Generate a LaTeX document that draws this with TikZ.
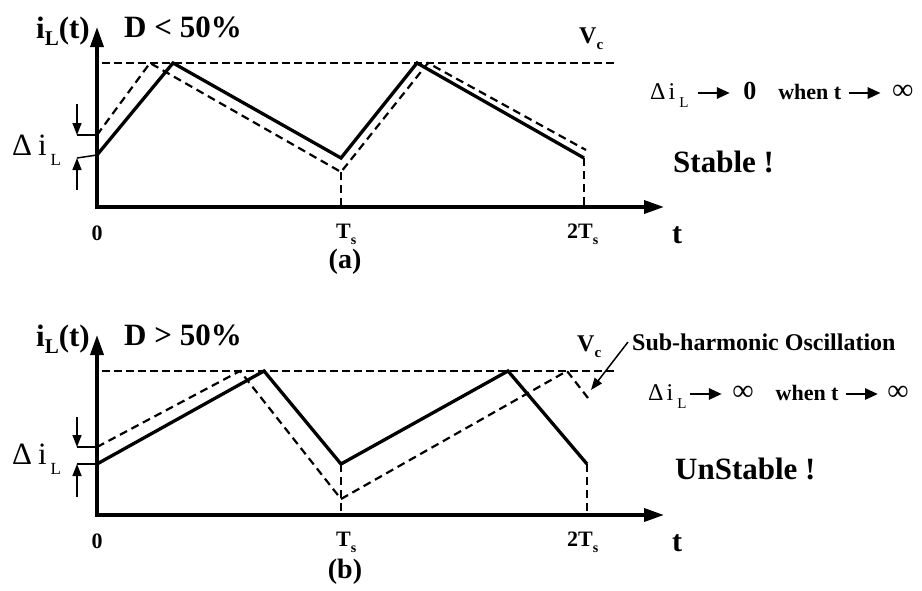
\documentclass[tikz,border=0pt]{standalone}
\usepackage{fontspec}
\setmainfont{Liberation Serif}
\usetikzlibrary{arrows.meta}

\newcommand{\fs}[1]{\fontsize{#1}{#1}\selectfont}
\newcommand{\flechatxt}{\tikz[baseline=-6pt]\draw[line width=2.8pt,-{Triangle[length=13pt,width=11pt]}] (0pt,0pt) -- (32pt,0pt);}

\begin{document}
\begin{tikzpicture}[x=1pt, y=-1pt,
      eje/.style={line width=3.5pt, {Triangle[length=20pt,width=13pt]}-{Triangle[length=20pt,width=13pt]}},
      onda/.style={line width=3.3pt, line join=miter},
      ondad/.style={line width=2.2pt, dash pattern=on 8pt off 5pt},
      nivel/.style={line width=2pt, dash pattern=on 8pt off 4pt},
      marca/.style={line width=1.5pt},
      flechita/.style={line width=1.5pt, -{Triangle[length=12pt,width=9pt]}},
      texto/.style={anchor=base west, inner sep=0pt},
      etiq/.style={anchor=base, inner sep=0pt, font=\bfseries}]
    \useasboundingbox (0,0) rectangle (922,590);
    % (a)
    \coordinate (oa) at (97,207);
    \coordinate (ya) at (97,27);
    \coordinate (xa) at (664,207);
    \coordinate (va1) at (102,63);
    \coordinate (va2) at (615,63);
    \coordinate (sa0) at (97,155);
    \coordinate (sa1) at (173,63);
    \coordinate (sa2) at (341,158);
    \coordinate (sa3) at (417,63);
    \coordinate (sa4) at (584,158);
    \coordinate (da0) at (97,135);
    \coordinate (da1) at (150,63);
    \coordinate (da2) at (341,172);
    \coordinate (da3) at (428,63);
    \coordinate (da4) at (586,150);
    \coordinate (ta1) at (341,207);
    \coordinate (ta2) at (584,207);
    \coordinate (ma1) at (77,135);
    \coordinate (ma2) at (77,158);
    \coordinate (ma3) at (77,104);
    \coordinate (ma4) at (77,190);
    \draw[eje] (ya) -- (oa) -- (xa);
    \draw[nivel] (va1) -- (va2);
    \draw[onda] (sa0) -- (sa1) -- (sa2) -- (sa3) -- (sa4);
    \draw[ondad] (da0) -- (da1) -- (da2) -- (da3) -- (da4);
    \draw[ondad] (da2) -- (ta1);
    \draw[ondad] (sa4) -- (ta2);
    \draw[marca] (ma1) -- (da0);
    \draw[marca] (ma2) -- (sa0);
    \draw[flechita] (ma3) -- (ma1);
    \draw[flechita] (ma4) -- (ma2);
    \node[texto] (ila) at (36,38) {\bfseries\fs{31}i\raisebox{-7pt}{\fs{21}L}(t)};
    \node[texto] (dpa) at (124,37) {\bfseries\fs{31}D < 50\%};
    \node[texto] (vca) at (579,43) {\bfseries\fs{24}V\raisebox{-6pt}{\fs{15}c}};
    \node[texto] (dila) at (12,155) {\fs{31}Δ\hspace{6pt}i\hspace{4pt}\raisebox{-10pt}{\fs{17}L}};
    \node[etiq] (cera) at (97,240) {\fs{22}0};
    \node[texto, font=\bfseries] (tsa) at (336,238) {\fs{22}T\raisebox{-6pt}{\fs{14}s}};
    \node[texto, font=\bfseries] (dtsa) at (567,238) {\fs{22}2T\raisebox{-6pt}{\fs{14}s}};
    \node[etiq] (tea) at (677,243) {\fs{30}t};
    \node[etiq] (capa) at (345,268) {\fs{28}(a)};
    \node[texto] (lima) at (650,99) {\fs{24}Δ\hspace{3pt}i\hspace{4pt}\raisebox{-8pt}{\fs{15}L}\hspace{8pt}\flechatxt\hspace{12pt}{\bfseries\fs{26}0}\hspace{22pt}{\bfseries\fs{22}when t}\hspace{6pt}\flechatxt\hspace{10pt}{\fs{30}∞}};
    \node[texto] (esta) at (673,172) {\bfseries\fs{31}Stable !};
    % (b)
    \coordinate (ob) at (97,515);
    \coordinate (yb) at (97,335);
    \coordinate (xb) at (664,515);
    \coordinate (vb1) at (102,371);
    \coordinate (vb2) at (615,371);
    \coordinate (sb0) at (97,464);
    \coordinate (sb1) at (264,371);
    \coordinate (sb2) at (341,464);
    \coordinate (sb3) at (508,371);
    \coordinate (sb4) at (587,464);
    \coordinate (db0) at (97,447);
    \coordinate (db1) at (240,371);
    \coordinate (db2) at (341,499);
    \coordinate (db3) at (567,371);
    \coordinate (db4) at (588,398);
    \coordinate (tb1) at (341,515);
    \coordinate (tb2) at (587,515);
    \coordinate (mb1) at (77,447);
    \coordinate (mb2) at (77,464);
    \coordinate (mb3) at (77,417);
    \coordinate (mb4) at (77,497);
    \coordinate (sha) at (628,342);
    \coordinate (shb) at (591,390);
    \draw[eje] (yb) -- (ob) -- (xb);
    \draw[nivel] (vb1) -- (vb2);
    \draw[onda] (sb0) -- (sb1) -- (sb2) -- (sb3) -- (sb4);
    \draw[ondad] (db0) -- (db1) -- (db2) -- (db3) -- (db4);
    \draw[ondad] (sb2) -- (tb1);
    \draw[ondad] (sb4) -- (tb2);
    \draw[marca] (mb1) -- (db0);
    \draw[marca] (mb2) -- (sb0);
    \draw[flechita] (mb3) -- (mb1);
    \draw[flechita] (mb4) -- (mb2);
    \draw[flechita] (sha) -- (shb);
    \node[texto] (ilb) at (36,346) {\bfseries\fs{31}i\raisebox{-7pt}{\fs{21}L}(t)};
    \node[texto] (dpb) at (124,345) {\bfseries\fs{31}D > 50\%};
    \node[texto] (vcb) at (577,351) {\bfseries\fs{24}V\raisebox{-6pt}{\fs{15}c}};
    \node[texto] (sub) at (632,350) {\bfseries\fs{24}Sub-harmonic Oscillation};
    \node[texto] (dilb) at (12,464) {\fs{31}Δ\hspace{6pt}i\hspace{4pt}\raisebox{-10pt}{\fs{17}L}};
    \node[etiq] (cerb) at (97,548) {\fs{22}0};
    \node[texto, font=\bfseries] (tsb) at (336,546) {\fs{22}T\raisebox{-6pt}{\fs{14}s}};
    \node[texto, font=\bfseries] (dtsb) at (567,546) {\fs{22}2T\raisebox{-6pt}{\fs{14}s}};
    \node[etiq] (teb) at (677,551) {\fs{30}t};
    \node[etiq] (capb) at (345,578) {\fs{28}(b)};
    \node[texto] (limb) at (648,400) {\fs{24}Δ\hspace{3pt}i\hspace{4pt}\raisebox{-8pt}{\fs{15}L}\hspace{2pt}\flechatxt\hspace{9pt}{\fs{30}∞}\hspace{22pt}{\bfseries\fs{22}when t}\hspace{6pt}\flechatxt\hspace{8pt}{\fs{30}∞}};
    \node[texto] (estb) at (675,479) {\bfseries\fs{31}UnStable !};
  \end{tikzpicture}
\end{document}
